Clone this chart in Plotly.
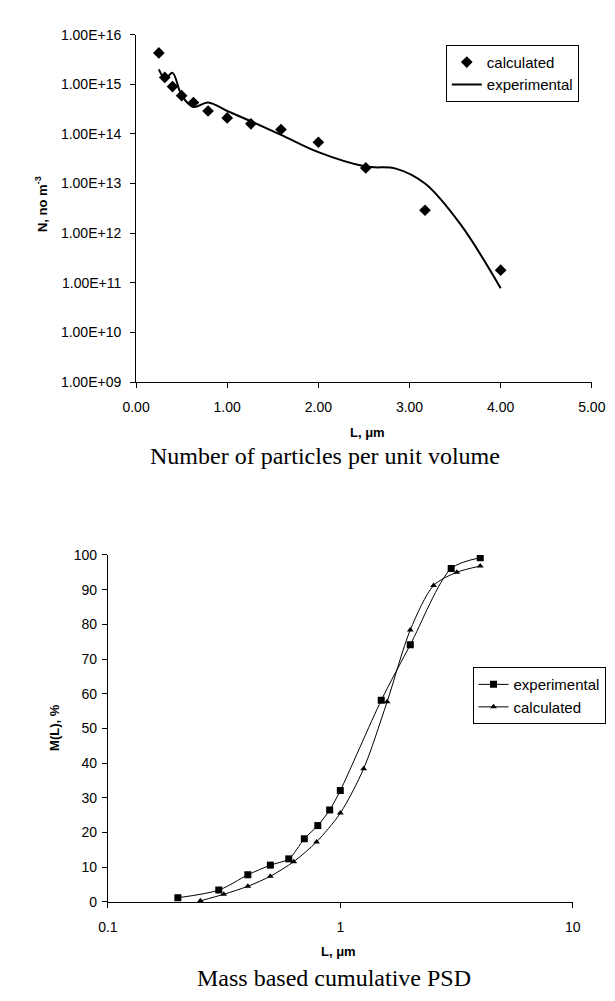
import plotly.graph_objects as go

# ---- Top chart data: number of particles per unit volume ----
L_calc_top = [0.25, 0.315, 0.40, 0.50, 0.63, 0.79, 1.00, 1.26, 1.59, 2.00, 2.52, 3.17, 4.00]
N_calc = [4.3e15, 1.38e15, 9.0e14, 5.9e14, 4.3e14, 2.9e14, 2.1e14, 1.6e14, 1.23e14,
          6.8e13, 2.07e13, 2.9e12, 1.8e11]

L_exp_top = [0.25, 0.32, 0.40, 0.50, 0.63, 0.79, 1.00, 1.26, 1.59, 2.00, 2.52, 2.85, 3.17, 3.56, 4.00]
N_exp = [2.0e15, 1.3e15, 1.7e15, 6.0e14, 3.5e14, 4.3e14, 2.9e14, 1.8e14, 9.6e13,
         4.3e13, 2.2e13, 2.0e13, 1.0e13, 1.5e12, 7.8e10]

top_y_tickvals = [1e9, 1e10, 1e11, 1e12, 1e13, 1e14, 1e15, 1e16]
top_y_ticktext = ["1.00E+09", "1.00E+10", "1.00E+11", "1.00E+12",
                  "1.00E+13", "1.00E+14", "1.00E+15", "1.00E+16"]
top_x_tickvals = [0, 1, 2, 3, 4, 5]

# ---- Bottom chart data: mass based cumulative PSD ----
L_exp_bot = [0.2, 0.3, 0.4, 0.5, 0.6, 0.7, 0.8, 0.9, 1.0, 1.5, 2.0, 3.0, 4.0]
M_exp = [1.2, 3.4, 7.8, 10.6, 12.4, 18.2, 22.0, 26.5, 32.1, 58.1, 74.1, 96.1, 99.2]

L_calc_bot = [0.25, 0.315, 0.40, 0.50, 0.63, 0.79, 1.00, 1.26, 1.59, 2.00, 2.52, 3.17, 4.00]
M_calc = [0.3, 2.2, 4.5, 7.4, 11.6, 17.3, 25.6, 38.4, 57.7, 78.4, 91.2, 95.0, 96.8]

bot_x_tickvals = [0.1, 1, 10]
bot_x_ticktext = ["0.1", "1", "10"]

W, H = 615, 1001
SANS = "Liberation Sans, Arial, sans-serif"
SERIF = "Liberation Serif, Times New Roman, serif"

def px_x(p):
    return p / W

def px_y(p):
    return 1 - p / H

fig = go.Figure()

fig.add_trace(go.Scatter(
    x=L_calc_top, y=N_calc, mode="markers", name="calculated",
    marker=dict(symbol="diamond", size=9, color="black"),
    xaxis="x", yaxis="y", legend="legend", legendgroup="a"))
fig.add_trace(go.Scatter(
    x=L_exp_top, y=N_exp, mode="lines", name="experimental",
    line=dict(color="black", width=2, shape="spline", smoothing=1.0),
    xaxis="x", yaxis="y", legend="legend", legendgroup="b"))

fig.add_trace(go.Scatter(
    x=L_exp_bot, y=M_exp, mode="lines+markers", name="experimental",
    line=dict(color="black", width=1, shape="spline", smoothing=0.8),
    marker=dict(symbol="square", size=7, color="black"),
    xaxis="x2", yaxis="y2", legend="legend2", legendgroup="c"))
fig.add_trace(go.Scatter(
    x=L_calc_bot, y=M_calc, mode="lines+markers", name="calculated",
    line=dict(color="black", width=1, shape="spline", smoothing=0.8),
    marker=dict(symbol="triangle-up", size=6, color="black"),
    xaxis="x2", yaxis="y2", legend="legend2", legendgroup="d"))

axis_common = dict(showgrid=False, zeroline=False, showline=True, linecolor="black",
                   linewidth=1, ticks="outside", ticklen=5, tickcolor="black",
                   tickfont=dict(family=SANS, size=14, color="black"))

fig.update_layout(
    width=W, height=H,
    margin=dict(l=0, r=0, t=0, b=0),
    paper_bgcolor="white", plot_bgcolor="white",
    xaxis=dict(domain=[px_x(119.5), px_x(597)], range=[0, 5], tickvals=top_x_tickvals,
               tickformat=".2f", anchor="y", ticklabelstandoff=7, **axis_common),
    yaxis=dict(domain=[px_y(372), px_y(19)], type="log", range=[9, 16],
               tickvals=top_y_tickvals, ticktext=top_y_ticktext, anchor="x",
               ticklabelstandoff=6, **axis_common),
    xaxis2=dict(domain=[px_x(90), px_x(577)], type="log", range=[-1, 1],
                tickvals=bot_x_tickvals, ticktext=bot_x_ticktext, anchor="y2",
                ticklabelstandoff=7, **axis_common),
    yaxis2=dict(domain=[px_y(900.3), px_y(547.7)], range=[0, 100], dtick=10,
                anchor="x2", ticklabelstandoff=2, **axis_common),
    legend=dict(x=px_x(444), y=px_y(29.3), xanchor="left", yanchor="top",
                bordercolor="black", borderwidth=1, bgcolor="white",
                font=dict(family=SANS, size=15, color="black"),
                itemwidth=30, traceorder="grouped", tracegroupgap=0),
    legend2=dict(x=px_x(472), y=px_y(661.7), xanchor="left", yanchor="top",
                 bordercolor="black", borderwidth=1, bgcolor="white",
                 font=dict(family=SANS, size=15, color="black"),
                 itemwidth=30, traceorder="grouped", tracegroupgap=0),
    showlegend=True,
)

annotations = [
    dict(text="<b>N, no m<sup>-3</sup></b>", x=px_x(20), y=px_y(191), textangle=-90,
         font=dict(family=SANS, size=13, color="black")),
    dict(text="<b>L, \u03bcm</b>", x=px_x(362), y=px_y(423),
         font=dict(family=SANS, size=13, color="black")),
    dict(text="Number of particles per unit volume", x=px_x(317), y=px_y(447),
         font=dict(family=SERIF, size=24, color="black")),
    dict(text="<b>M(L), %</b>", x=px_x(34), y=px_y(723), textangle=-90,
         font=dict(family=SANS, size=13, color="black")),
    dict(text="<b>L, \u03bcm</b>", x=px_x(332), y=px_y(951),
         font=dict(family=SANS, size=13, color="black")),
    dict(text="Mass based cumulative PSD", x=px_x(327), y=px_y(978),
         font=dict(family=SERIF, size=24, color="black")),
]
for a in annotations:
    a.update(xref="paper", yref="paper", showarrow=False, xanchor="center", yanchor="middle")
fig.update_layout(annotations=annotations)

fig.write_html("out.html")
